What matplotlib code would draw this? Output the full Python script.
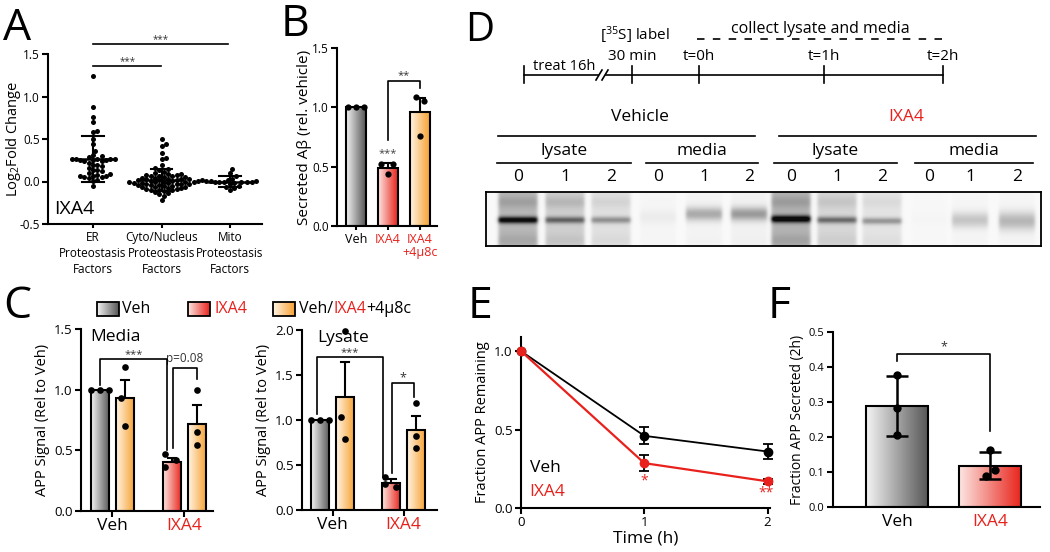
import numpy as np
import matplotlib
matplotlib.use('Agg')
import matplotlib.pyplot as plt
from matplotlib.patches import Rectangle
from matplotlib.colors import LinearSegmentedColormap

plt.rcParams['font.family'] = ['Open Sans', 'DejaVu Sans']
plt.rcParams['axes.unicode_minus'] = False
plt.rcParams['mathtext.fontset'] = 'custom'
plt.rcParams['mathtext.rm'] = 'Open Sans'
plt.rcParams['mathtext.it'] = 'Open Sans:italic'
plt.rcParams['mathtext.bf'] = 'Open Sans:bold'

RED = '#e8211c'

# ---------------- data ----------------
# Panel A
a_categories = ['ER\nProteostasis\nFactors', 'Cyto/Nucleus\nProteostasis\nFactors',
                'Mito\nProteostasis\nFactors']
a_er = [1.24, 0.88, 0.76, 0.70, 0.59, 0.58, 0.50, 0.44, 0.36, 0.31, 0.30, 0.29, 0.27, 0.27,
        0.26, 0.26, 0.26, 0.25, 0.25, 0.25, 0.24, 0.24, 0.22, 0.20, 0.19, 0.18, 0.16, 0.14,
        0.13, 0.12, 0.10, 0.09, 0.08, 0.07, 0.06, 0.06, 0.05, 0.05, 0.04, 0.02, 0.01, -0.05]
a_cyto = [0.50, 0.44, 0.42, 0.33, 0.28, 0.26, 0.20, 0.16, 0.15, 0.13, 0.11, 0.10, 0.09,
          0.085, 0.08, 0.075, 0.07, 0.065, 0.06, 0.055, 0.05, 0.045, 0.04, 0.035, 0.03,
          0.03, 0.025, 0.02, 0.02, 0.015, 0.01, 0.01, 0.005, 0.0, 0.0, -0.005, -0.01, -0.01,
          -0.015, -0.02, -0.02, -0.025, -0.03, -0.03, -0.035, -0.04, -0.04, -0.045, -0.05,
          -0.055, -0.06, -0.065, -0.07, -0.075, -0.08, -0.085, -0.09, -0.095, -0.10, -0.105,
          -0.11, -0.12, -0.13, -0.15, -0.17, -0.22]
a_mito = [0.15, 0.10, 0.06, 0.03, 0.02, 0.02, 0.01, 0.01, 0.01, 0.00, 0.00, 0.00, 0.00,
          -0.01, -0.01, -0.02, -0.03, -0.05, -0.06, -0.08, -0.10]
a_mean = [0.26, 0.02, 0.00]
a_sd = [0.27, 0.13, 0.06]
a_yticks = [-0.5, 0.0, 0.5, 1.0, 1.5]

# Panel B
b_labels = ['Veh', 'IXA4', 'IXA4\n+4μ8c']
b_label_colors = ['black', RED, RED]
b_means = [1.0, 0.49, 0.96]
b_err = [0.0, 0.04, 0.12]
b_points = [[1.0, 1.0, 1.0], [0.52, 0.52, 0.44], [1.09, 1.05, 0.76]]
b_yticks = [0.0, 0.5, 1.0, 1.5]

# Panel C
c_groups = ['Veh', 'IXA4']
c_group_colors = ['black', RED]
c_media_means = [1.0, 0.93, 0.40, 0.72]
c_media_err = [0.0, 0.15, 0.035, 0.15]
c_media_points = [[1.0, 1.0, 1.0], [1.19, 0.93, 0.70], [0.47, 0.42, 0.36], [1.00, 0.655, 0.54]]
c_lys_means = [1.0, 1.26, 0.30, 0.89]
c_lys_err = [0.0, 0.38, 0.05, 0.16]
c_lys_points = [[1.0, 1.0, 1.0], [1.99, 1.03, 0.785], [0.37, 0.26, 0.285], [1.185, 0.82, 0.685]]

# Panel D
d_timeline_labels = ['', '30 min', 't=0h', 't=1h', 't=2h']
gel_lane_labels = ['0', '1', '2'] * 4
gel_smear = [0.34, 0.22, 0.13, 0.02, 0.03, 0.04, 0.36, 0.18, 0.11, 0.01, 0.02, 0.02]
gel_upper = [0.10, 0.10, 0.05, 0.0, 0.0, 0.0, 0.10, 0.07, 0.04, 0.0, 0.0, 0.0]
gel_band = [0.78, 0.45, 0.33, 0.04, 0.30, 0.36, 0.83, 0.45, 0.32, 0.01, 0.20, 0.26]
gel_band_y = [220, 220, 220, 217, 214, 214, 219, 220, 221, 219, 220, 221]
gel_band_sigma = [2.4, 2.4, 2.4, 5.0, 4.8, 4.8, 2.6, 2.4, 2.4, 5.0, 5.5, 6.5]

# Panel E
e_time = [0, 1, 2]
e_veh = [1.0, 0.46, 0.36]
e_veh_err = [0.0, 0.055, 0.045]
e_ixa = [1.0, 0.286, 0.17]
e_ixa_err = [0.0, 0.05, 0.015]

# Panel F
f_labels = ['Veh', 'IXA4']
f_means = [0.289, 0.118]
f_err = [0.085, 0.039]
f_points = [[0.378, 0.284, 0.206], [0.162, 0.107, 0.090]]
f_yticks = [0.0, 0.1, 0.2, 0.3, 0.4, 0.5]

# ---------------- figure ----------------
W, H = 1050, 552
fig = plt.figure(figsize=(W / 100, H / 100), dpi=100)


def px_axes(x0, y0, x1, y1):
    return fig.add_axes([x0 / W, 1 - y1 / H, (x1 - x0) / W, (y1 - y0) / H])


def style(ax, lw=1.5, fs=9):
    for s in ['top', 'right']:
        ax.spines[s].set_visible(False)
    for s in ['left', 'bottom']:
        ax.spines[s].set_linewidth(lw)
    ax.tick_params(width=lw, length=4, labelsize=fs, pad=2)
    ax.patch.set_alpha(0)


CM_GRAY = LinearSegmentedColormap.from_list('g', ['#f4f4f4', '#555555'])
CM_RED = LinearSegmentedColormap.from_list('r', ['#fde6e2', '#e8231b'])
CM_OR = LinearSegmentedColormap.from_list('o', ['#fff4e4', '#f7a132'])


def grad_bar(ax, xc, w, h, cmap, lw=1.5):
    g = np.linspace(0, 1, 128).reshape(1, -1)
    ax.imshow(g, extent=(xc - w / 2, xc + w / 2, 0, h), aspect='auto', cmap=cmap,
              origin='lower', zorder=2, interpolation='bilinear')
    ax.add_patch(Rectangle((xc - w / 2, 0), w, h, fill=False, ec='black', lw=lw, zorder=3))


def up_err(ax, x, m, e, cw, lw=1.5):
    if e <= 0:
        return
    ax.plot([x, x], [m, m + e], color='black', lw=lw, zorder=4, solid_capstyle='butt')
    ax.plot([x - cw, x + cw], [m + e, m + e], color='black', lw=lw, zorder=4)


def bracket(ax, xa, xb, ytop, ya, yb, text, ty, fs=8, color='#333333', lw=1.2):
    ax.plot([xa, xa, xb, xb], [ya, ytop, ytop, yb], color='black', lw=lw, zorder=5,
            clip_on=False)
    ax.text((xa + xb) / 2, ty, text, ha='center', va='center', fontsize=fs, color=color,
            clip_on=False)


def swarm(ypx, d):
    order = np.argsort(ypx)
    placed = []
    offs = np.zeros(len(ypx))
    cands = [0.0]
    for k in range(1, 80):
        cands += [k * d * 0.5, -k * d * 0.5]
    for i in order:
        y = ypx[i]
        for c in cands:
            ok = True
            for (px, py) in placed:
                if (c - px) ** 2 + (y - py) ** 2 < d * d:
                    ok = False
                    break
            if ok:
                break
        placed.append((c, y))
        offs[i] = c
    return offs


# ---------------- Panel A ----------------
axA = px_axes(48, 54, 262, 224)
style(axA, fs=8.5)
xppu, yppu = 68.5, 85.0
for i, vals in enumerate([a_er, a_cyto, a_mito]):
    v = np.array(vals)
    offs = swarm(v * yppu, 4.3) / xppu
    axA.plot(i + offs, v, 'o', ms=3.6, color='black', mew=0, zorder=3, clip_on=False)
    m, s = a_mean[i], a_sd[i]
    axA.plot([i - 0.31, i + 0.31], [m, m], color='black', lw=1.8, zorder=4)
    axA.plot([i, i], [m - s, m + s], color='black', lw=1.5, zorder=4)
    for yy in (m - s, m + s):
        axA.plot([i - 0.16, i + 0.16], [yy, yy], color='black', lw=1.5, zorder=4)
axA.set_xlim(-0.657, 2.467)
axA.set_ylim(-0.5, 1.5)
axA.set_yticks(a_yticks)
axA.set_yticklabels(['%.1f' % t for t in a_yticks])
axA.set_xticks([0, 1, 2])
axA.set_xticklabels(a_categories, fontsize=8.5, linespacing=1.3)
axA.tick_params(axis='x', length=3)
axA.set_ylabel('Log$\\mathregular{_2}$Fold Change', fontsize=10.5)
axA.yaxis.set_label_coords(-0.118, 0.5)
axA.text(0.03, 0.09, 'IXA4', transform=axA.transAxes, fontsize=14, va='center')
axA.plot([0, 0.99], [1.36, 1.36], color='black', lw=1.2, clip_on=False)
axA.text(0.5, 1.41, '***', ha='center', va='center', fontsize=7, color='#333333')
axA.plot([0, 1.97], [1.62, 1.62], color='black', lw=1.2, clip_on=False)
axA.text(0.985, 1.67, '***', ha='center', va='center', fontsize=7, color='#333333')

# ---------------- Panel B ----------------
axB = px_axes(337, 48, 437, 226)
style(axB, fs=8.5)
bw = 0.6
for i, cm in enumerate([CM_GRAY, CM_RED, CM_OR]):
    grad_bar(axB, i, bw, b_means[i], cm)
    up_err(axB, i, b_means[i], b_err[i], 0.15)
b_dx = [[-0.25, 0.0, 0.25], [-0.21, 0.15, 0.0], [-0.13, 0.13, 0.0]]
for i, pts in enumerate(b_points):
    axB.plot(np.array(b_dx[i]) + i, pts, 'o', ms=4.5, color='black', mew=0, zorder=5,
             clip_on=False)
axB.set_xlim(-0.59, 2.53)
axB.set_ylim(0, 1.5)
axB.set_yticks(b_yticks)
axB.set_yticklabels(['%.1f' % t for t in b_yticks])
axB.set_xticks([0, 1, 2])
axB.set_xticklabels(b_labels, fontsize=9, linespacing=1.0, va='top')
for lbl, c in zip(axB.get_xticklabels(), b_label_colors):
    lbl.set_color(c)
axB.tick_params(axis='x', length=3)
axB.set_ylabel('Secreted Aβ (rel. vehicle)', fontsize=11)
axB.yaxis.set_label_coords(-0.25, 0.5)
axB.text(1, 0.61, '***', ha='center', va='center', fontsize=8, color='#444444')
bracket(axB, 1, 2, 1.224, 0.725, 1.16, '**', 1.27)

# ---------------- Panel C ----------------
def c_panel(ax, means, errs, points, ymax, yticks, xl, xr):
    style(ax, fs=9.5)
    pos = [-0.174, 0.174, 1 - 0.174, 1 + 0.174]
    cms = [CM_GRAY, CM_OR, CM_RED, CM_OR]
    w = 0.26
    dx = [[-0.13, 0.0, 0.12], [0.0, -0.05, 0.0], [-0.09, 0.06, -0.09], [0.0, 0.0, 0.0]]
    for k in range(4):
        grad_bar(ax, pos[k], w, means[k], cms[k])
        up_err(ax, pos[k], means[k], errs[k], 0.06)
        ax.plot(np.array(dx[k]) + pos[k], points[k], 'o', ms=4.8, color='black', mew=0,
                zorder=5, clip_on=False)
    ax.set_xlim(xl, xr)
    ax.set_ylim(0, ymax)
    ax.set_yticks(yticks)
    ax.set_yticklabels(['%.1f' % t for t in yticks])
    ax.set_xticks([0, 1])
    ax.set_xticklabels(c_groups, fontsize=12.5)
    for lbl, c in zip(ax.get_xticklabels(), c_group_colors):
        lbl.set_color(c)
    ax.tick_params(axis='x', length=4, pad=1)
    ax.set_ylabel('APP Signal (Rel to Veh)', fontsize=10.5, labelpad=3)
    return pos


axCm = px_axes(81, 329, 213, 511)
pos = c_panel(axCm, c_media_means, c_media_err, c_media_points, 1.5, [0.0, 0.5, 1.0, 1.5],
              -0.4375, 1.396)
axCm.text(0.07, 0.955, 'Media', transform=axCm.transAxes, fontsize=12.5, va='center')
bracket(axCm, pos[0], pos[2] - 0.07, 1.255, 1.04, 0.50, '***', 1.29)
bracket(axCm, pos[2] + 0.01, pos[3], 1.18, 0.52, 1.09, 'p=0.08', 1.255, fs=8.5)

axCl = px_axes(302, 330, 437, 510)
pos = c_panel(axCl, c_lys_means, c_lys_err, c_lys_points, 2.0, [0.0, 0.5, 1.0, 1.5, 2.0],
              -0.43, 1.47)
axCl.text(0.11, 0.955, 'Lysate', transform=axCl.transAxes, fontsize=12.5, va='center')
bracket(axCl, pos[0] - 0.05, pos[2] - 0.12, 1.70, 1.07, 0.37, '***', 1.745)
bracket(axCl, pos[2] + 0.01, pos[3] - 0.03, 1.41, 0.41, 1.26, '*', 1.47, fs=9)

# ---------------- Panel D: gel ----------------
GX0, GX1, GY0, GY1 = 486, 1041, 192, 246
axG = px_axes(GX0, GY0, GX1, GY1)
lane_x = np.array([518, 565, 611, 658, 704, 749, 791, 837, 882, 929, 970, 1017])
xs = np.arange(GX0, GX1) + 0.5
ys = np.arange(GY0, GY1) + 0.5
X, Y = np.meshgrid(xs, ys)
img = np.full(X.shape, 0.025)
for k, cx in enumerate(lane_x):
    hw = 19.5 if k % 6 < 3 else 18.0
    lane = 1.0 / (1.0 + np.exp((np.abs(X - cx) - hw) / 1.0))
    smear = gel_smear[k] * (0.8 + 0.2 * np.exp(-((Y - 240) / 6.0) ** 2))
    upper = gel_upper[k] * np.exp(-((Y - 202) / 6.0) ** 2)
    band = gel_band[k] * np.exp(-0.5 * ((Y - gel_band_y[k]) / gel_band_sigma[k]) ** 2)
    img += lane * (smear + upper + band)
img = np.clip(img, 0, 1)
axG.imshow(img, extent=(GX0, GX1, GY1, GY0), cmap='gray_r', vmin=0, vmax=1.05,
           aspect='auto', interpolation='bilinear')
axG.set_xlim(GX0, GX1)
axG.set_ylim(GY1, GY0)
axG.set_xticks([])
axG.set_yticks([])
for s in axG.spines.values():
    s.set_linewidth(1.3)

# ---------------- Panel E ----------------
axE = px_axes(521, 337, 770, 508)
style(axE, fs=9.5)
axE.errorbar(e_time, e_veh, yerr=e_veh_err, color='black', lw=1.3, marker='o', ms=6,
             capsize=3.5, capthick=1.3, elinewidth=1.3, zorder=4, clip_on=False)
axE.errorbar(e_time, e_ixa, yerr=e_ixa_err, color=RED, ecolor='black', lw=1.6, marker='o',
             ms=6, mfc=RED, mec=RED, capsize=3.5, capthick=1.3, elinewidth=1.3, zorder=5,
             clip_on=False)
axE.set_xlim(0, 2.02)
axE.set_ylim(0, 1.09)
axE.set_xticks([0, 1, 2])
axE.set_yticks([0.0, 0.5, 1.0])
axE.set_yticklabels(['0.0', '0.5', '1.0'])
axE.set_xlabel('Time (h)', fontsize=12.5, labelpad=1)
axE.set_ylabel('Fraction APP Remaining', fontsize=10.5, labelpad=3)
axE.text(0.035, 0.234, 'Veh', transform=axE.transAxes, fontsize=12.5, va='center')
axE.text(0.035, 0.094, 'IXA4', transform=axE.transAxes, fontsize=12.5, va='center', color=RED)
axE.text(1, 0.175, '*', ha='center', va='center', fontsize=10, color=RED)
axE.text(1.99, 0.095, '**', ha='center', va='center', fontsize=10, color=RED, clip_on=False)

# ---------------- Panel F ----------------
axF = px_axes(833, 332, 1040, 507)
style(axF, fs=8)
fw = 0.667
for i, cm in enumerate([CM_GRAY, CM_RED]):
    grad_bar(axF, i, fw, f_means[i], cm)
    axF.errorbar([i], [f_means[i]], yerr=[f_err[i]], fmt='none', ecolor='black', elinewidth=1.8,
                 capsize=8, capthick=1.8, zorder=4)
f_dx = [[0.0, 0.0, 0.0], [0.0, 0.05, -0.04]]
for i, pts in enumerate(f_points):
    axF.plot(np.array(f_dx[i]) + i, pts, 'o', ms=6, color='black', mew=0, zorder=5)
axF.set_xlim(-0.688, 1.538)
axF.set_ylim(0, 0.5)
axF.set_yticks(f_yticks)
axF.set_yticklabels(['%.1f' % t for t in f_yticks])
axF.set_xticks([0, 1])
axF.set_xticklabels(f_labels, fontsize=12.5)
axF.get_xticklabels()[1].set_color(RED)
axF.tick_params(axis='x', length=0, pad=5)
axF.set_ylabel('Fraction APP Secreted (2h)', fontsize=10, labelpad=3)
bracket(axF, 0, 1, 0.438, 0.416, 0.216, '*', 0.458, fs=9)

# ---------------- overlay (letters, diagram, legend) ----------------
ov = fig.add_axes([0, 0, 1, 1])
ov.set_xlim(0, W)
ov.set_ylim(H, 0)
ov.axis('off')
ov.patch.set_alpha(0)

for letter, x, y, fs in [('A', 3, 40, 32), ('B', 281, 36, 32), ('C', 3, 318, 32),
                         ('D', 465, 41, 29), ('E', 468, 318, 32), ('F', 768, 318, 32)]:
    ov.text(x, y, letter, fontsize=fs, va='baseline', ha='left')

# timeline
tl_y = 75
tick_x = [524, 632, 699, 824, 943]
ov.plot([524, 598], [tl_y, tl_y], color='black', lw=1.2)
ov.plot([606, 943], [tl_y, tl_y], color='black', lw=1.2)
for x0 in (596, 602):
    ov.plot([x0, x0 + 6], [tl_y + 5, tl_y - 5], color='black', lw=1.2)
for x in tick_x:
    ov.plot([x, x], [tl_y - 9, tl_y + 8], color='black', lw=1.2)
ov.text(564, 67, 'treat 16h', ha='center', va='center', fontsize=10.5)
ov.text(635, 35, '[$\\mathregular{^{35}}$S] label', ha='center', va='center', fontsize=11)
for x, lab in zip(tick_x[1:], d_timeline_labels[1:]):
    ov.text(x, 56, lab, ha='center', va='center', fontsize=11)
ov.plot([697, 943], [39, 39], color='black', lw=1.2, dashes=(4.5, 5))
ov.text(820, 29, 'collect lysate and media', ha='center', va='center', fontsize=11.5)

# gel labels
ov.text(640, 117, 'Vehicle', ha='center', va='center', fontsize=12.5)
ov.text(906, 117, 'IXA4', ha='center', va='center', fontsize=12.5, color=RED)
ov.plot([498, 755], [136, 136], color='black', lw=1.2)
ov.plot([779, 1036], [136, 136], color='black', lw=1.2)
for (a, b, lab) in [(497, 631, 'lysate'), (646, 758, 'media'), (774, 897, 'lysate'),
                    (915, 1033, 'media')]:
    ov.plot([a, b], [163, 163], color='black', lw=1.2)
    ov.text((a + b) / 2, 151, lab, ha='center', va='center', fontsize=12.5)
for x, lab in zip(lane_x, gel_lane_labels):
    ov.text(x, 177, lab, ha='center', va='center', fontsize=12.5)

# legend C
renderer = fig.canvas.get_renderer()
leg_y0, leg_y1 = 302, 316
g = np.linspace(0, 1, 128).reshape(1, -1)
for (x0, cm) in [(97, CM_GRAY), (188, CM_RED), (273, CM_OR)]:
    ov.imshow(g, extent=(x0, x0 + 22, leg_y1, leg_y0), aspect='auto', cmap=cm,
              interpolation='bilinear', zorder=2)
    ov.add_patch(Rectangle((x0, leg_y0), 22, leg_y1 - leg_y0, fill=False, ec='black', lw=1.3,
                           zorder=3))
ov.set_xlim(0, W)
ov.set_ylim(H, 0)
ly = 309
ov.text(122, ly, 'Veh', va='center', fontsize=11.5)
ov.text(214, ly, 'IXA4', va='center', fontsize=11.5, color=RED)
xcur = 299
for piece, col in [('Veh/', 'black'), ('IXA4', RED), ('+4μ8c', 'black')]:
    t = ov.text(xcur, ly, piece, va='center', fontsize=11.5, color=col)
    bb = t.get_window_extent(renderer=renderer)
    xcur += bb.width

fig.savefig('out.png', dpi=100)
